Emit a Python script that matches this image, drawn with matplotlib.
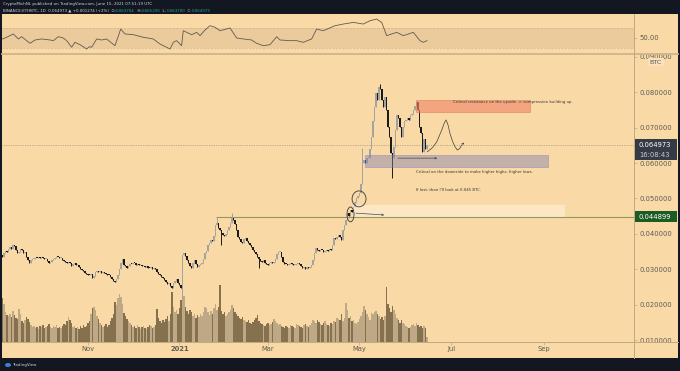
import numpy as np
import pandas as pd
import matplotlib
matplotlib.use('Agg')
import matplotlib.pyplot as plt
import matplotlib.transforms as mtransforms
from matplotlib.patches import Rectangle, Ellipse, FancyArrowPatch
from matplotlib.lines import Line2D
from matplotlib.text import Annotation

# ---------------- data (BINANCE:ETHBTC, 1D) ----------------
first_day = '2020-09-04'
closes = [
    0.0340, 0.0336, 0.0345, 0.0352, 0.0348, 0.0356, 0.0362, 0.0358, 0.0370, 0.0366,
    0.0355, 0.0346, 0.0350, 0.0356, 0.0354, 0.0345, 0.0348, 0.0336, 0.0325, 0.0318,
    0.0326, 0.0329, 0.0330, 0.0333, 0.0332, 0.0334, 0.0331, 0.0335, 0.0333, 0.0329,
    0.0330, 0.0324, 0.0318, 0.0322, 0.0326, 0.0329, 0.0333, 0.0336, 0.0334, 0.0331,
    0.0333, 0.0327, 0.0324, 0.0321, 0.0319, 0.0322, 0.0319, 0.0310, 0.0316, 0.0318,
    0.0312, 0.0313, 0.0306, 0.0300, 0.0298, 0.0295, 0.0290, 0.0287, 0.0284, 0.0283,
    0.0286, 0.0276, 0.0282, 0.0291, 0.0295, 0.0293, 0.0294, 0.0290, 0.0292, 0.0290,
    0.0287, 0.0284, 0.0283, 0.0278, 0.0273, 0.0268, 0.0265, 0.0272, 0.0284, 0.0300,
    0.0318, 0.0330, 0.0312, 0.0308, 0.0304, 0.0310, 0.0316, 0.0314, 0.0318, 0.0317,
    0.0313, 0.0315, 0.0312, 0.0313, 0.0309, 0.0310, 0.0307, 0.0308, 0.0305, 0.0304,
    0.0306, 0.0302, 0.0304, 0.0300, 0.0292, 0.0288, 0.0285, 0.0278, 0.0276, 0.0271,
    0.0265, 0.0258, 0.0262, 0.0252, 0.0248, 0.0262, 0.0266, 0.0272, 0.0262, 0.0255,
    0.0246, 0.0340, 0.0346, 0.0338, 0.0326, 0.0318, 0.0310, 0.0304, 0.0318, 0.0326,
    0.0314, 0.0307, 0.0312, 0.0316, 0.0318, 0.0330, 0.0346, 0.0352, 0.0369, 0.0374,
    0.0384, 0.0380, 0.0395, 0.0425, 0.0431, 0.0418, 0.0410, 0.0403, 0.0398, 0.0395,
    0.0400, 0.0410, 0.0420, 0.0432, 0.0445, 0.0440, 0.0428, 0.0410, 0.0392, 0.0385,
    0.0378, 0.0374, 0.0386, 0.0388, 0.0380, 0.0374, 0.0370, 0.0362, 0.0355, 0.0349,
    0.0343, 0.0335, 0.0330, 0.0324, 0.0321, 0.0325, 0.0318, 0.0316, 0.0312, 0.0318,
    0.0320, 0.0318, 0.0322, 0.0328, 0.0342, 0.0348, 0.0349, 0.0336, 0.0321, 0.0316,
    0.0315, 0.0312, 0.0316, 0.0318, 0.0314, 0.0312, 0.0312, 0.0316, 0.0318, 0.0314,
    0.0308, 0.0304, 0.0306, 0.0302, 0.0306, 0.0304, 0.0307, 0.0312, 0.0326, 0.0345,
    0.0359, 0.0355, 0.0352, 0.0355, 0.0354, 0.0350, 0.0353, 0.0355, 0.0352, 0.0356,
    0.0355, 0.0370, 0.0389, 0.0385, 0.0392, 0.0398, 0.0391, 0.0383, 0.0410, 0.0425,
    0.0440, 0.0459, 0.0450, 0.0467, 0.0462, 0.0476, 0.0490, 0.0500, 0.0507, 0.0516,
    0.0540, 0.0600, 0.0609, 0.0600, 0.0614, 0.0614, 0.0640, 0.0674, 0.0720, 0.0758,
    0.0798, 0.0778, 0.0815, 0.0810, 0.0778, 0.0758, 0.0787, 0.0750, 0.0702, 0.0674,
    0.0629, 0.0614, 0.0645, 0.0693, 0.0736, 0.0727, 0.0702, 0.0674, 0.0702, 0.0720,
    0.0722, 0.0727, 0.0722, 0.0736, 0.0740, 0.0750, 0.0760, 0.0773, 0.0750, 0.0702,
    0.0685, 0.0631, 0.0668, 0.0640, 0.064973,
]
volumes = [  # thousand ETH
    700, 880, 760, 600, 540, 520, 560, 500, 620, 540,
    480, 460, 660, 560, 420, 380, 440, 500, 460, 400,
    340, 300, 320, 280, 300, 260, 320, 300, 340, 280,
    300, 320, 360, 300, 280, 320, 300, 340, 280, 300,
    280, 320, 360, 340, 420, 500, 440, 380, 300, 320,
    280, 300, 260, 320, 280, 340, 300, 320, 380, 420,
    560, 680, 700, 640, 520, 460, 380, 340, 300, 320,
    360, 300, 340, 420, 480, 560, 800, 740, 880, 960,
    900, 760, 580, 520, 460, 420, 380, 340, 300, 320,
    280, 340, 300, 260, 300, 320, 280, 260, 300, 340,
    320, 280, 300, 340, 660, 480, 420, 380, 440, 400,
    460, 520, 420, 560, 1000, 700, 600, 640, 560, 680,
    840, 1040, 920, 700, 620, 560, 640, 600, 520, 560,
    480, 540, 500, 560, 520, 600, 700, 680, 600, 540,
    620, 560, 680, 760, 640, 700, 1140, 620, 560, 600,
    520, 560, 600, 640, 740, 680, 600, 560, 520, 480,
    460, 500, 440, 420, 400, 440, 380, 360, 400, 440,
    480, 540, 420, 380, 360, 340, 320, 360, 380, 340,
    360, 400, 460, 420, 380, 340, 360, 320, 300, 280,
    320, 300, 280, 340, 320, 300, 280, 360, 340, 320,
    300, 280, 340, 360, 320, 300, 340, 380, 440, 420,
    380, 440, 400, 360, 340, 380, 420, 360, 340, 320,
    380, 360, 420, 400, 480, 460, 440, 560, 420, 480,
    780, 640, 480, 520, 420, 440, 380, 360, 400, 460,
    520, 600, 720, 640, 560, 500, 440, 580, 560, 600,
    620, 560, 520, 460, 500, 440, 520, 1100, 760, 680,
    600, 720, 640, 560, 480, 440, 380, 440, 380, 360,
    320, 300, 280, 300, 340, 360, 320, 380, 340, 300,
    320, 280, 320, 280, 100,
]
wick_high = {'2021-01-26': 0.0449, '2021-02-05': 0.0460, '2021-05-03': 0.0643,
             '2021-05-15': 0.0823}
wick_low = {'2021-01-03': 0.0213, '2021-01-29': 0.0370, '2021-02-23': 0.0305,
            '2021-05-23': 0.0558}

# RSI(14): day offsets from 2020-09-01 and values
rsi_days = [4, 6.8, 11.2, 14.6, 16.8, 22.3, 25.7, 30.1, 35.7, 37.9, 41.2, 44.5, 46.8, 50.1,
            52.3, 55.7, 60.1, 61.9, 63.4, 66.8, 70.1, 73.4, 79, 82.8, 85.7, 91.2, 97.9,
            104.5, 109, 113.4, 115.7, 117.9, 120.1, 123.4, 124.5, 126.8, 130.1, 133.4,
            135.7, 139, 142.3, 145.7, 149, 155.7, 160.1, 164.6, 170.1, 173.4, 177.9,
            182.3, 186.8, 189, 195.7, 200.1, 204.6, 210.1, 213.4, 217.9, 225.7, 231.2,
            237.9, 244.5, 249, 253.4, 256.8, 260.1, 266.8, 271.2, 277.9, 282.3, 284.6, 287]
rsi_vals = [47.5, 50.8, 57.3, 47.5, 52, 39, 45.5, 47.5, 45.5, 44.2, 52, 49.4, 44.2, 31.2,
            41, 36.3, 27.8, 32.4, 31.2, 47.5, 45.5, 47.5, 34.3, 67, 57.3, 55.9, 50.8,
            47.5, 37.6, 31.2, 27.8, 41, 44.2, 34.3, 63.7, 60.5, 55.9, 60.5,
            54, 65, 73.5, 70.4, 63.7, 69, 49.4, 47.5, 45.5, 39, 34.3,
            36.3, 52, 45.5, 44.2, 44.2, 41, 47.5, 67, 63.7, 73.5, 76.8,
            80, 76.8, 83.3, 86.6, 80, 54, 60.5, 54, 60.5, 44.2, 41, 44.2]

last_price = 0.064973
last_time = '16:08:43'
level_price = 0.044899
price_ticks = [0.01, 0.02, 0.03, 0.04, 0.05, 0.06, 0.07, 0.08, 0.09]
price_tick_labels = ['%.6f' % v for v in price_ticks]
month_ticks = ['2020-11-01', '2021-01-01', '2021-03-01', '2021-05-01', '2021-07-01', '2021-09-01']
month_labels = ['Nov', '2021', 'Mar', 'May', 'Jul', 'Sep']

# ---------------- helpers ----------------
origin = pd.Timestamp('2020-09-01')
def D(s):
    return float((pd.Timestamp(s) - origin).days)

assert len(closes) == len(volumes), (len(closes), len(volumes))
assert len(rsi_days) == len(rsi_vals)
dates = pd.date_range(first_day, periods=len(closes), freq='D')
x = np.array((dates - origin).days, dtype=float)
c = np.array(closes)
o = np.r_[c[0], c[:-1]]
hi = np.maximum(o, c)
lo = np.minimum(o, c)
for k, v in wick_high.items():
    hi[int(D(k) - x[0])] = v
for k, v in wick_low.items():
    lo[int(D(k) - x[0])] = v
up = c >= o

# ---------------- style ----------------
DARK = '#131722'
BG = '#f9d9a6'
BAND = '#ebcb9c'
AXC = '#bfa985'
TXC = '#5e5a52'
UPC = '#a4a3a0'
DNC = '#1a1a1a'
VUP = '#bea885'
VDN = '#86714f'
TEAL = '#26a69a'

W, H = 680.0, 371.0
def fr(x0, y0, x1, y1):
    return [x0 / W, 1 - y1 / H, (x1 - x0) / W, (y1 - y0) / H]

fig = plt.figure(figsize=(6.8, 3.71), dpi=100)
fig.patch.set_facecolor(DARK)
fig.add_artist(Rectangle((2 / W, 1 - 358 / H), 676 / W, 344 / H, transform=fig.transFigure,
                         facecolor=BG, edgecolor='none', zorder=-10))

XL, XR = 3.67, 425.0

vax = fig.add_axes(fr(2, 55, 634, 342))
vax.set_zorder(1)
vax.patch.set_visible(False)
vax.axis('off')
ax = fig.add_axes(fr(2, 55, 634, 342))
ax.set_zorder(2)
ax.patch.set_visible(False)
rax = fig.add_axes(fr(2, 14, 634, 54))
rax.patch.set_visible(False)

# volume
vax.bar(x, volumes, width=0.72, color=np.where(up, VUP, VDN), linewidth=0)
vax.set_xlim(XL, XR)
vax.set_ylim(0, 5740)

# candles
cols = np.where(up, UPC, DNC)
ax.vlines(x, lo, hi, colors=cols, linewidth=0.7, zorder=3)
ax.bar(x, np.maximum(np.abs(c - o), 0.00025), bottom=np.minimum(o, c), width=0.85,
       color=cols, linewidth=0, zorder=3)
ax.set_xlim(XL, XR)
ax.set_ylim(0.00946, 0.09054)

ax.axhline(last_price, color='#8a8273', lw=0.5, ls=(0, (1, 1.5)), zorder=2)
ax.hlines(level_price, D('2021-01-25') + 0.3, XR, color='#8f9a60', lw=0.8, zorder=2)

# axes ticks
ax.yaxis.tick_right()
ax.set_yticks(price_ticks)
ax.set_yticklabels(price_tick_labels)
ax.tick_params(axis='y', length=2, width=0.5, color=AXC, labelsize=4.9, labelcolor=TXC, pad=1.8)
ax.set_xticks([D(s) for s in month_ticks])
ax.set_xticklabels(month_labels)
ax.tick_params(axis='x', length=2, width=0.5, color=AXC, labelsize=4.9, labelcolor=TXC, pad=1.2)
ax.get_xticklabels()[1].set_fontweight('bold')
for s in ax.spines.values():
    s.set_visible(False)

# RSI pane
rax.set_xlim(XL, XR)
rax.set_ylim(18, 96.5)
rax.axhspan(30, 70, color=BAND, lw=0, zorder=0)
rax.axhline(70, color='#cdb48e', lw=0.5, ls=(0, (3, 2)))
rax.axhline(30, color='#cdb48e', lw=0.5, ls=(0, (3, 2)))
rax.plot(rsi_days, rsi_vals, color='#5f5a52', lw=0.6, zorder=3)
rax.yaxis.tick_right()
rax.set_yticks([50])
rax.set_yticklabels(['50.00'])
rax.tick_params(axis='y', length=2, width=0.5, color=AXC, labelsize=4.9, labelcolor=TXC, pad=1.8)
rax.set_xticks([])
for s in rax.spines.values():
    s.set_visible(False)

# separators
fig.add_artist(Line2D([2 / W, 678 / W], [1 - 54 / H, 1 - 54 / H], transform=fig.transFigure,
                      color='#cdb58f', lw=1.3, zorder=10))
fig.add_artist(Line2D([634 / W, 634 / W], [1 - 14 / H, 1 - 358 / H], transform=fig.transFigure,
                      color=AXC, lw=0.7, zorder=10))
fig.add_artist(Line2D([2 / W, 678 / W], [1 - 342 / H, 1 - 342 / H], transform=fig.transFigure,
                      color=AXC, lw=0.7, zorder=10))

# price boxes on scale
bt = mtransforms.blended_transform_factory(ax.transAxes, ax.transData)
ax.add_patch(Rectangle((1.0016, 0.0609), 0.0665, 0.0059, transform=bt, facecolor='#363a45',
                       edgecolor='none', clip_on=False, zorder=6))
ax.text(1.0079, last_price, '%.6f' % last_price, transform=bt, color='white', fontsize=4.9,
        va='center', ha='left', clip_on=False, zorder=7)
ax.text(1.0079, 0.0623, last_time, transform=bt, color='#c9cbd1', fontsize=4.9,
        va='center', ha='left', clip_on=False, zorder=7)
ax.add_patch(Rectangle((1.0016, 0.04336), 0.0665, 0.00311, transform=bt, facecolor='#1d5b25',
                       edgecolor='none', clip_on=False, zorder=6))
ax.text(1.0079, level_price, '%.6f' % level_price, transform=bt, color='white', fontsize=4.9,
        va='center', ha='left', clip_on=False, zorder=7)
fig.text(656 / W, 1 - 62 / H, 'BTC', color=TXC, fontsize=4.6, ha='center', va='center', zorder=12,
         bbox=dict(facecolor='#f7e2bd', edgecolor='none', pad=1.0))

# drawings
ax.add_patch(Rectangle((279.7, 0.0745), 76.0, 0.0033, facecolor='#ef8a6a', alpha=0.65,
                       edgecolor='#e07a5c', lw=0.6, zorder=4))
ax.add_patch(Rectangle((245.7, 0.0590), 122.0, 0.0033, facecolor='#837fae', alpha=0.45,
                       edgecolor='#6f7fc4', lw=0.6, zorder=4))
ax.add_patch(Rectangle((237.7, 0.0449), 141.3, 0.0032, facecolor='white', alpha=0.35,
                       edgecolor='none', zorder=4))
ax.add_patch(Ellipse((241.7, 0.0499), 9.3, 0.0045, fill=False, edgecolor='#3a3a3a', lw=0.6, zorder=5))
ax.add_patch(Ellipse((236.0, 0.0455), 4.7, 0.0042, fill=False, edgecolor='#3a3a3a', lw=0.6, zorder=5))
ax.add_patch(FancyArrowPatch((237.7, 0.0459), (260.3, 0.0453), arrowstyle='->', mutation_scale=3,
                             lw=0.5, color='#4a4a4a', zorder=5))
ax.add_patch(FancyArrowPatch((265.7, 0.0614), (295.7, 0.0614), arrowstyle='->', mutation_scale=3,
                             lw=0.5, color='#4a4a4a', zorder=5))
path_d = [287.2, 290.5, 293.5, 296.8, 298.6, 299.7, 301.0, 302.3, 304.0, 305.7, 307.2, 308.8, 310.1, 313.0]
path_p = [0.0632, 0.0643, 0.0660, 0.0693, 0.0714, 0.0722, 0.0708, 0.0684, 0.0662, 0.0646, 0.0637, 0.0641, 0.0651, 0.0663]
ax.plot(path_d[:-1], path_p[:-1], color='#3f3f3f', lw=0.5, zorder=5)
ax.add_patch(FancyArrowPatch((path_d[-2], path_p[-2]), (path_d[-1], path_p[-1]), arrowstyle='->',
                             mutation_scale=3, lw=0.5, color='#3f3f3f', zorder=5))

TFS = 2.8
ax.text(304.3, 0.0774, 'Critical resistance on the upside -> compression building up.',
        fontsize=TFS, color='#3a3632', va='center', ha='left', zorder=6)
ax.text(279.7, 0.0576, 'Critical on the downside to make higher highs, higher lows.',
        fontsize=TFS, color='#3a3632', va='center', ha='left', zorder=6)
ax.text(279.7, 0.0524, "If lost, than I'll look at 0.045 BTC.",
        fontsize=TFS, color='#3a3632', va='center', ha='left', zorder=6)

# header
HFS = 2.9
fig.text(3 / W, 1 - 4.5 / H, 'CryptoMichNL published on TradingView.com, June 15, 2021 07:51:19 UTC',
         color='#d1d4dc', fontsize=HFS, va='center', ha='left')
pieces = [('BINANCE:ETHBTC, 1D  0.064973 \u25b2 +0.001274 (+2%)  O:', '#d1d4dc'),
          ('0.063704', TEAL), ('  H:', '#d1d4dc'), ('0.065200', TEAL),
          ('  L:', '#d1d4dc'), ('0.063700', TEAL), ('  C:', '#d1d4dc'), ('0.064973', TEAL)]
prev = fig.text(3 / W, 1 - 12.5 / H, pieces[0][0], color=pieces[0][1], fontsize=HFS,
                va='bottom', ha='left')
for s, col in pieces[1:]:
    a = Annotation(s, xy=(1, 0), xycoords=prev, va='bottom', ha='left', color=col, fontsize=HFS)
    fig.add_artist(a)
    prev = a

# footer
fig.add_artist(Ellipse((8 / W, 1 - 365 / H), 6 / W, 4 / H, transform=fig.transFigure,
                       facecolor='#3d7fd6', edgecolor='none', zorder=5))
fig.text(12 / W, 1 - 365 / H, 'TradingView', color='#d1d4dc', fontsize=HFS, va='center', ha='left')

fig.savefig('out.png', dpi=100, facecolor=DARK)
